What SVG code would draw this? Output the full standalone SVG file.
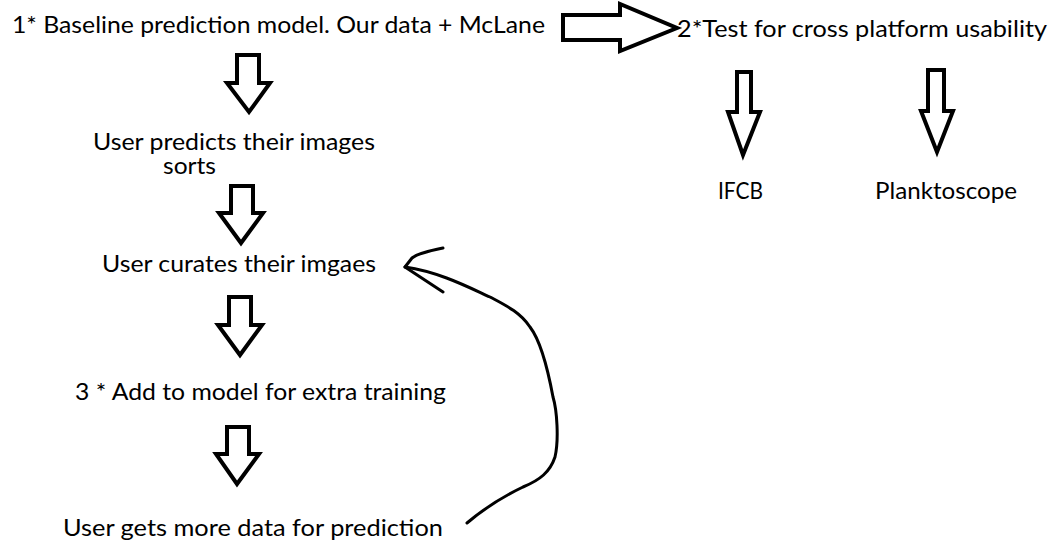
<svg xmlns="http://www.w3.org/2000/svg" width="1053" height="559" viewBox="0 0 1053 559">
<style>
text{font-family:Lato,"Open Sans","Liberation Sans",sans-serif;font-size:24px;fill:#000}
.blk{fill:#fff;stroke:#000;stroke-width:4;stroke-linejoin:miter}
.hand{fill:none;stroke:#000;stroke-width:3;stroke-linecap:round;stroke-linejoin:round}
</style>
<rect width="1053" height="559" fill="#fff"/>
<g id="n1"><text x="12" y="33" textLength="533" lengthAdjust="spacingAndGlyphs">1* Baseline prediction model. Our data + McLane</text></g>
<g id="n2"><text x="677" y="37" textLength="370" lengthAdjust="spacingAndGlyphs">2*Test for cross platform usability</text></g>
<g id="n3"><text x="93" y="150" textLength="282" lengthAdjust="spacingAndGlyphs">User predicts their images</text><text x="163" y="174" textLength="53" lengthAdjust="spacingAndGlyphs">sorts</text></g>
<g id="n4"><text x="102" y="272" textLength="274" lengthAdjust="spacingAndGlyphs">User curates their imgaes</text></g>
<g id="n5"><text x="75" y="400" textLength="371" lengthAdjust="spacingAndGlyphs">3 * Add to model for extra training</text></g>
<g id="n6"><text x="63" y="536" textLength="380" lengthAdjust="spacingAndGlyphs">User gets more data for prediction</text></g>
<g id="n7"><text x="718" y="199" textLength="45" lengthAdjust="spacingAndGlyphs">IFCB</text></g>
<g id="n8"><text x="875" y="199" textLength="142" lengthAdjust="spacingAndGlyphs">Planktoscope</text></g>
<g id="connectors">
<polygon class="blk" points="237,55 259,55 259,83 270,83 249,112 227,83 237,83"/>
<polygon class="blk" points="563,15 620,15 620,4 677,28 620,51 620,40 563,40"/>
<polygon class="blk" points="737,72 751,72 751,112 760,112 743,155 728,112 737,112"/>
<polygon class="blk" points="928,70 944,70 944,111 953,111 937,152 921,111 928,111"/>
<polygon class="blk" points="231,186 253,186 253,213 263,213 241,243 219,213 231,213"/>
<polygon class="blk" points="229,297 251,297 251,325 262,325 240,355 218,325 229,325"/>
<polygon class="blk" points="227,427 249,427 249,454 259,454 237,484 216,454 227,454"/>
<path class="hand" d="M467,523 C480,512 500,498 523,487 C540,480 550,472 555,457 C559,440 557,410 553,397 C548,370 540,340 530,327 C520,312 505,305 490,297 C470,288 440,272 405,267"/>
<path class="hand" d="M443,248 C430,251 418,253 412,258 L405,267 L443,292"/>
</g>
</svg>
